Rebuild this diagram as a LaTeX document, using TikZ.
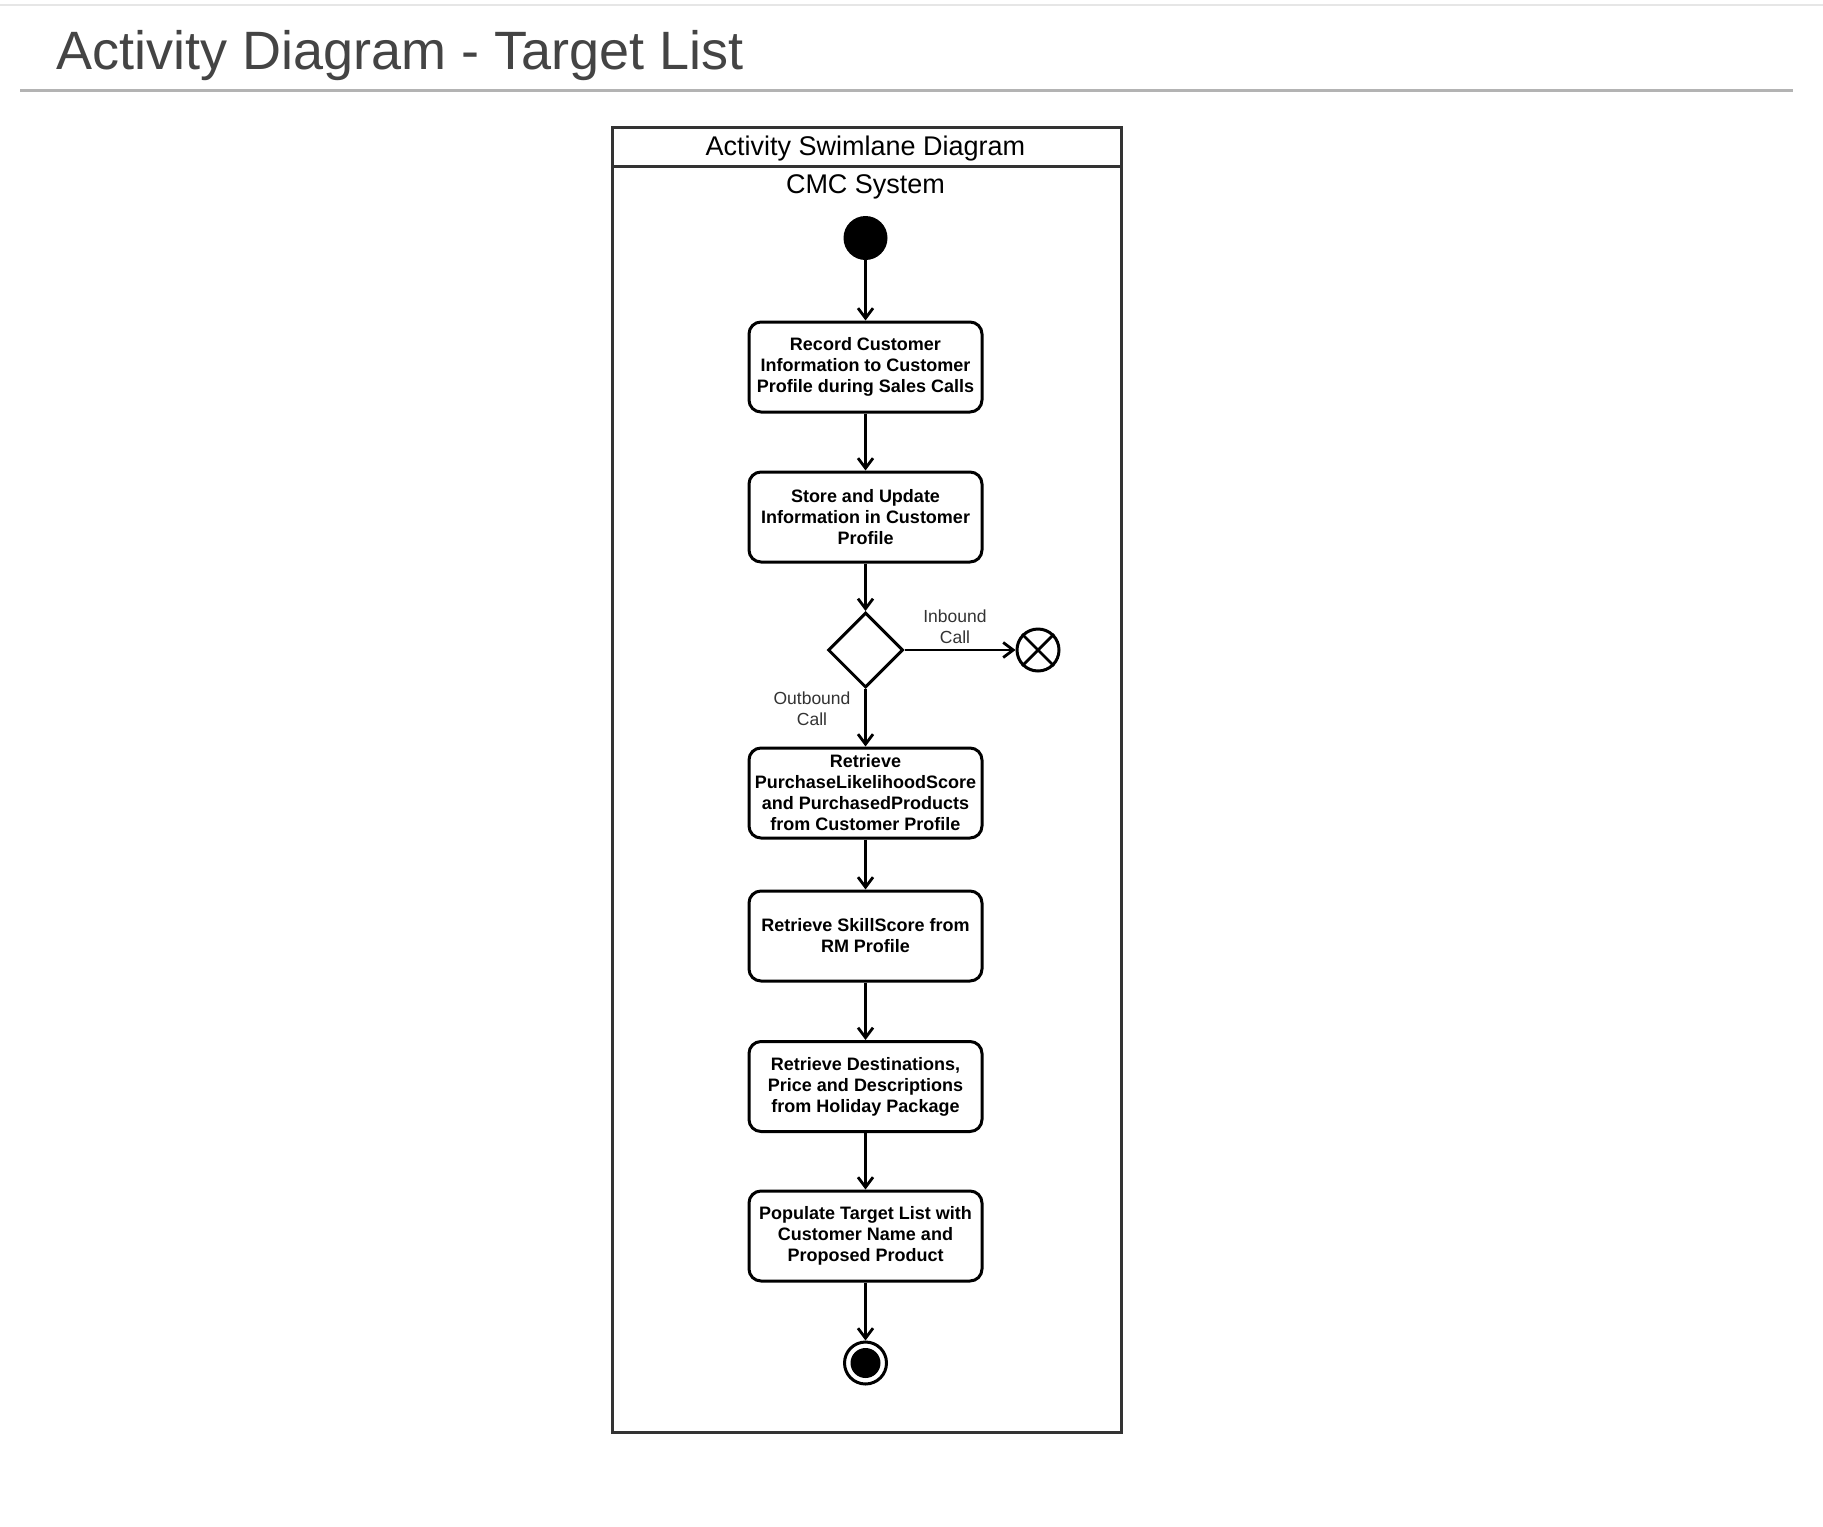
\documentclass[tikz,border=0pt]{standalone}
\usepackage{fontspec}
\setmainfont{Liberation Sans}
\usetikzlibrary{arrows.meta,shapes.geometric}
\definecolor{titlegrey}{HTML}{444444}
\definecolor{topgrey}{HTML}{E6E6E6}
\definecolor{rulegrey}{HTML}{B3B3B3}
\definecolor{lanegrey}{HTML}{333333}
\definecolor{labelgrey}{HTML}{333333}
\begin{document}
\begin{tikzpicture}[x=1pt,y=-1pt,
  act/.style={draw=black, line width=3pt, rounded corners=12pt, minimum width=233pt,
    minimum height=90pt, align=center, inner sep=0pt,
    font=\fontsize{18}{21}\selectfont\bfseries},
  flow/.style={draw=black, line width=2.8pt,
    -{Straight Barb[length=10pt,width=15pt,line width=2.8pt]}},
  lbl/.style={font=\fontsize{17.5}{21}\selectfont, text=labelgrey, align=center, inner sep=0pt},
  lane/.style={draw=lanegrey, line width=3pt, inner sep=0pt, anchor=north west, minimum width=509pt}]
\useasboundingbox (0,0) rectangle (1823,1526);
\fill[white] (0,0) rectangle (1823,1526);
% page header
\coordinate (tl) at (0,5);
\coordinate (tr) at (1823,5);
\draw[topgrey, line width=2pt] (tl) -- (tr);
\node[anchor=base west, inner sep=0pt, font=\fontsize{54}{60}\selectfont, text=titlegrey] (title) at (56,69) {Activity Diagram - Target List};
\coordinate (rl) at (20,90);
\coordinate (rr) at (1793,90);
\draw[rulegrey, line width=3pt] (rl) -- (rr);
% swimlane
\node[lane, minimum height=39pt] (head) at (611,126) {};
\node[lane, minimum height=1266pt] (body) at (611,165) {};
\node[anchor=base, inner sep=0pt, font=\fontsize{27}{30}\selectfont] (lanetitle) at (865.5,155) {Activity Swimlane Diagram};
\node[anchor=base, inner sep=0pt, font=\fontsize{27}{30}\selectfont] (lanename) at (865.5,193) {CMC System};
% nodes
\node[circle, fill=black, minimum size=44pt, inner sep=0pt] (start) at (865.5,238) {};
\node[act] (a1) at (865.5,367) {Record Customer\\Information to Customer\\Profile during Sales Calls};
\node[act] (a2) at (865.5,517) {Store and Update\\Information in Customer\\Profile};
\node[diamond, draw=black, line width=3pt, minimum size=75pt, inner sep=0pt] (dec) at (865.5,650) {};
\node[circle, draw=black, line width=3pt, minimum size=42pt, inner sep=0pt] (flowend) at (1038,650) {};
\draw[line width=2.8pt] (flowend.north west) -- (flowend.south east);
\draw[line width=2.8pt] (flowend.north east) -- (flowend.south west);
\node[act] (a3) at (865.5,793) {Retrieve\\PurchaseLikelihoodScore\\and PurchasedProducts\\from Customer Profile};
\node[act] (a4) at (865.5,936) {Retrieve SkillScore from\\RM Profile};
\node[act] (a5) at (865.5,1086.5) {Retrieve Destinations,\\Price and Descriptions\\from Holiday Package};
\node[act] (a6) at (865.5,1236) {Populate Target List with\\Customer Name and\\Proposed Product};
\node[circle, draw=black, line width=3pt, minimum size=42pt, inner sep=0pt] (final) at (865.5,1363) {};
\node[circle, fill=black, minimum size=30pt, inner sep=0pt] (finaldot) at (final) {};
% labels
\node[lbl] (inlbl) at (955,627) {Inbound\\Call};
\node[lbl] (outlbl) at (812,709) {Outbound\\Call};
% flows
\draw[flow] (start) -- (a1);
\draw[flow] (a1) -- (a2);
\draw[flow] (a2) -- (dec);
\draw[flow] (dec.east) -- (flowend.west);
\draw[flow] (dec.south) -- (a3.north);
\draw[flow] (a3) -- (a4);
\draw[flow] (a4) -- (a5);
\draw[flow] (a5) -- (a6);
\draw[flow] (a6) -- (final);
\end{tikzpicture}
\end{document}
